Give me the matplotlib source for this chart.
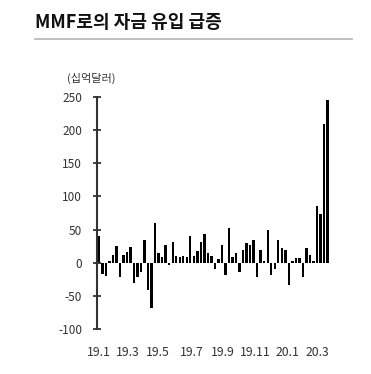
import matplotlib
matplotlib.use("Agg")
import matplotlib.pyplot as plt
from matplotlib.lines import Line2D

plt.rcParams['font.family'] = ['Noto Sans CJK KR', 'DejaVu Sans']

title = "MMF로의 자금 유입 급증"
unit_label = "(십억달러)"

# weekly net flows into MMF (billion USD), Jan 2019 - Mar 2020
flows = [40, -17, -19.5, 3, 11.5, 25.5, -22, 12, 16, 23,
         -30, -22, -14.5, 34.5, -41, -69, 60, 14.5, 8, 26,
         -3, 30.6, 10, 8, 9.5, 8, 40, 10, 18, 31,
         44, 14.5, 10, -9, 5, 26, -18, 52, 8, 14.5,
         -14.5, 19, 29, 26, 34, -21, 19, 3, 49, -18,
         -9, 34, 22, 19, -34, 3, 7.5, 7.5, -22, 22,
         11, 2, 85, 74, 210, 245]

x_labels = ["19.1", "19.3", "19.5", "19.7", "19.9", "19.11", "20.1", "20.3"]
x_label_weeks = [0, 8.3, 16.8, 26.5, 35.3, 44.4, 53.5, 62]
y_ticks = [-100, -50, 0, 50, 100, 150, 200, 250]

W, H = 371, 374
fig = plt.figure(figsize=(W / 100, H / 100), dpi=100)

ax = fig.add_axes([97.5 / W, (H - 329) / H, (330 - 97.5) / W, (329 - 97) / H])
ax.bar(range(len(flows)), flows, width=0.68, color='black', linewidth=0)

ax.set_ylim(-100, 250)
ax.set_xlim(-0.37, 65.7)
ax.set_yticks(y_ticks)
ax.set_yticklabels([str(v) for v in y_ticks], fontsize=8.5, color='#333333')
ax.set_xticks(x_label_weeks)
ax.set_xticklabels(x_labels, fontsize=8.8, color='#333333')

for s in ['top', 'right', 'bottom']:
    ax.spines[s].set_visible(False)
ax.spines['left'].set_color('#333333')
ax.spines['left'].set_linewidth(1.5)
ax.tick_params(axis='y', direction='inout', length=6, width=1.3, color='#333333', pad=8)
ax.tick_params(axis='x', length=0, pad=12)

fig.text(35 / W, 1 - 22 / H, title, fontsize=13, fontweight='bold', color='#111111',
         va='center', ha='left')
fig.add_artist(Line2D([35 / W, 352 / W], [1 - 38.5 / H, 1 - 38.5 / H],
                      color='#bbbbbb', linewidth=1.3, transform=fig.transFigure))
fig.text(67 / W, 1 - 78 / H, unit_label, fontsize=8, color='#333333', va='center', ha='left')

fig.savefig("out.png", dpi=100)
